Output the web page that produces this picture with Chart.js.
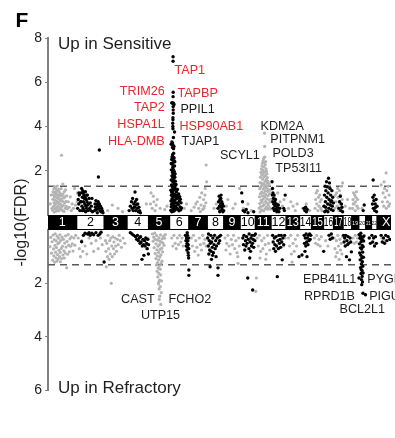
<!DOCTYPE html>
<html>
<head>
<meta charset="utf-8">
<script src="https://cdn.jsdelivr.net/npm/chart.js@4.4.1/dist/chart.umd.min.js"></script>
<style>
  html, body { margin: 0; padding: 0; background: #fff; }
</style>
</head>
<body>
<canvas id="manhattanChartID" width="395" height="438"></canvas>
<script>
// chromosome layout (Mb)
var chrom_names = ['1','2','3','4','5','6','7','8','9','10','11','12','13','14','15','16','17','18','19','20','21','22','X'];
var chrom_lengths = [249.3, 243.2, 198.0, 191.2, 180.9, 171.1, 159.1, 146.4, 141.2, 135.5, 135.0, 133.9, 115.2, 107.3, 102.5, 90.4, 81.2, 78.1, 59.1, 63.0, 48.1, 51.3, 155.3];

var up_ticks = [2, 4, 6, 8];
var down_ticks = [2, 4, 6];
var fdr_cutoff = 1.3;

// [chromosome, position Mb, -log10(FDR)]
var up_gray = [
    [1,20,0.5],[1,28,0.9],[1,35,0.3],[1,41,0.22],[1,43,0.71],[1,44,1.05],[1,47,0.38],[1,49,0.92],[1,51,1.18],[1,53,0.55],
    [1,54,0.13],[1,56,0.81],[1,58,1.27],[1,59,0.44],[1,61,0.67],[1,62,1.02],[1,64,0.29],[1,66,0.86],[1,67,1.21],[1,69,0.51],
    [1,71,0.17],[1,72,0.97],[1,74,0.63],[1,76,1.12],[1,78,0.35],[1,79,0.78],[1,81,1.31],[1,83,0.24],[1,85,0.91],[1,86,0.58],
    [1,88,1.08],[1,90,0.41],[1,92,0.74],[1,94,0.19],[1,96,1.16],[1,98,0.53],[1,100,0.85],[1,102,0.32],[1,104,1.01],[1,106,0.66],
    [1,108,0.27],[1,110,0.93],[1,112,0.48],[1,115,1.19],[1,117,0.72],[1,118,2.7],[1,120,0.36],[1,122,0.88],[1,125,0.21],
    [1,127,0.62],[1,130,1.4],[1,131,0.95],[1,134,0.43],[1,137,0.77],[1,140,0.16],[1,143,1.06],[1,146,0.54],[1,149,0.82],
    [1,152,0.3],[1,155,1.14],[1,158,0.62],[1,161,0.39],[1,164,0.87],[1,170,0.28],[1,178,0.6],[1,186,0.35],[1,195,0.82],
    [1,204,0.2],[1,212,0.5],[1,222,0.3],[1,232,1.2],[1,240,0.45],
    [2,5,0.6],[2,8,1.0],
    [3,30,0.2],[3,70,0.45],[3,120,0.3],[3,160,0.15],
    [4,170,0.5],
    [5,15,0.5],[5,20,1.0],[5,30,0.3],[5,40,0.85],[5,45,0.6],[5,55,0.2],[5,65,0.45],[5,75,0.7],[5,100,0.3],[5,140,0.25],[5,160,0.4],
    [6,130,0.3],[6,150,0.5],
    [7,20,0.2],[7,45,0.35],[7,60,0.5],[7,73,0.6],[7,85,0.3],[7,95,0.8],[7,100,0.15],[7,105,0.45],[7,112,1.0],[7,120,0.25],[7,128,0.7],
    [7,130,0.3],[7,135,0.4],[7,140,0.9],[7,142,1.2],[7,148,0.55],[7,150,2.26],[7,155,1.5],
    [8,60,0.3],[8,80,0.5],
    [9,20,0.4],[9,35,0.7],[9,80,0.3],[9,100,0.5],[9,138,1.2],
    [10,30,0.3],[10,70,0.5],[10,100,0.2],
    [11,33,0.31],[11,35,0.82],[11,37,1.19],[11,38,0.52],[11,40,1.47],[11,41,0.14],[11,43,0.96],[11,44,1.71],[11,46,0.38],
    [11,47,1.28],[11,48,1.93],[11,50,0.67],[11,51,2.08],[11,52,1.44],[11,54,0.23],[11,55,1.03],[11,56,1.82],[11,57,2.21],
    [11,58,0.58],[11,59,1.36],[11,61,2.34],[11,62,0.86],[11,63,1.62],[11,64,2.02],[11,65,0.41],[11,66,2.44],[11,67,1.17],
    [11,68,1.88],[11,69,0.72],[11,70,2.53],[11,71,1.41],[11,72,0.19],[11,73,2.17],[11,74,0.99],[11,75,1.73],[11,76,2.61],
    [11,77,0.47],[11,78,1.26],[11,79,3.7],[11,79,2.36],[11,80,3.1],[11,81,0.83],[11,81,1.95],[11,82,2.62],[11,83,1.52],
    [11,84,0.28],[11,85,2.27],[11,86,1.09],[11,87,1.78],[11,88,0.61],[11,89,2.41],[11,90,1.33],[11,91,0.92],[11,92,2.09],
    [11,94,1.61],[11,95,0.36],[11,96,1.98],[11,97,1.21],[11,99,0.74],[11,100,1.86],[11,101,1.45],[11,103,0.53],[11,104,1.69],
    [11,106,1.07],[11,107,0.26],[11,108,1.52],[11,110,0.88],[11,112,1.32],[11,113,0.44],[11,115,1.14],[11,117,0.69],
    [11,119,1.41],[11,121,0.33],[11,123,0.97],[11,126,0.58],[11,128,1.12],[11,131,0.27],[11,133,0.71],
    [12,30,0.8],[12,45,0.5],[12,60,1.0],[12,70,0.3],[12,80,0.6],[12,100,0.4],[12,115,0.7],
    [13,20,0.3],[13,40,0.6],[13,60,0.4],[13,80,0.2],[13,95,0.5],
    [14,30,0.3],[14,60,0.5],[14,90,0.2],
    [15,30,0.3],[15,35,0.7],[15,40,1.0],[15,45,0.5],[15,50,1.1],[15,55,0.2],[15,60,0.8],[15,65,0.4],[15,70,0.9],[15,75,0.6],
    [15,80,0.3],[15,85,0.7],[15,90,0.2],
    [16,10,0.4],[16,80,0.5],
    [17,10,0.3],[17,15,0.9],[17,20,0.6],[17,25,1.0],[17,30,0.4],[17,35,1.2],[17,40,0.8],[17,45,0.2],[17,48,0.6],[17,50,1.1],
    [17,55,0.5],[17,60,0.9],[17,65,1.3],[17,70,0.3],[17,75,0.7],[17,78,1.45],
    [18,20,0.4],[18,40,0.7],[18,60,0.3],
    [19,5,0.3],[19,10,0.7],[19,12,0.5],[19,15,1.0],[19,20,0.5],[19,25,0.9],[19,30,0.2],[19,32,0.6],[19,35,0.8],[19,40,1.05],
    [19,45,0.4],[19,50,0.7],[19,55,0.3],
    [20,30,0.3],
    [23,35,1.36],[23,45,0.6],[23,52,1.0],[23,58,0.4],[23,60,1.5],[23,65,1.2],[23,70,0.8],[23,78,1.9],[23,80,0.3],[23,85,1.1],
    [23,90,0.6],[23,95,1.3],[23,100,0.4],[23,104,0.9],[23,110,0.5]
];

var up_black = [
    [2,10,0.3],[2,15,0.7],[2,20,0.5],[2,22,1.0],[2,25,0.9],[2,30,0.2],[2,35,0.6],[2,40,1.0],[2,42,0.6],[2,45,1.2],[2,48,0.4],
    [2,50,0.2],[2,52,0.8],[2,55,1.1],[2,58,0.3],[2,60,1.0],[2,62,0.6],[2,65,0.9],[2,68,0.2],[2,70,0.75],[2,72,0.5],[2,75,0.8],
    [2,78,1.05],[2,80,0.15],[2,82,0.4],[2,85,0.7],[2,88,0.3],[2,90,0.9],[2,92,0.6],[2,95,0.9],[2,98,0.45],[2,100,0.2],[2,105,0.5],
    [2,110,0.75],[2,115,0.3],[2,120,0.55],[2,125,0.2],[2,130,0.4],[2,135,0.75],[2,140,0.15],
    [2,158,0.2],[2,162,0.5],[2,166,0.35],[2,170,0.65],[2,175,0.25],[2,178,0.5],[2,182,0.1],[2,186,0.4],[2,190,0.6],[2,192,1.72],
    [2,195,0.3],[2,200,2.94],[2,200,0.5],[2,205,0.2],[2,210,0.4],[2,215,0.15],[2,220,0.3],[2,226,0.2],[2,232,0.1],
    [4,20,0.2],[4,30,0.4],[4,40,0.6],[4,45,0.3],[4,50,0.75],[4,55,0.2],[4,60,0.5],[4,65,0.35],[4,71,1.04],[4,72,0.6],[4,76,0.2],
    [4,80,0.45],[4,85,0.7],[4,90,0.3],[4,95,0.5],[4,100,0.15],[4,105,0.35],[4,110,0.2],[4,118,0.1],
    [6,32,7.15],[6,32,6.95],[6,33,5.55],[6,32,5.35],[6,20,5.07],[6,26,5.07],[6,30,5.05],[6,35,5.05],[6,40,5.0],[6,33,4.9],
    [6,33,4.75],[6,34,4.6],[6,31,4.4],[6,31,4.3],[6,29,4.15],[6,30,4.0],[6,31,3.9],[6,45,3.75],[6,35,3.5],[6,28,3.25],
    [6,32,3.15],[6,27,3.05],[6,36,3.0],[6,40,3.1],[6,15,3.2],[6,22,3.3],
    [6,12,0.21],[6,13,1.12],[6,14,0.63],[6,15,1.58],[6,16,0.37],[6,17,2.04],[6,18,0.89],[6,19,1.36],[6,20,2.51],[6,21,0.15],
    [6,22,1.77],[6,23,0.74],[6,24,2.29],[6,25,1.05],[6,26,0.46],[6,27,1.92],[6,28,2.72],[6,28,1.24],[6,29,0.58],[6,30,2.16],
    [6,31,1.49],[6,31,0.28],[6,32,2.61],[6,33,0.97],[6,33,1.83],[6,34,2.38],[6,35,0.52],[6,35,1.31],[6,36,2.05],[6,37,0.81],
    [6,37,2.79],[6,38,1.65],[6,39,0.34],[6,40,2.45],[6,41,1.14],[6,42,1.97],[6,43,0.67],[6,44,1.42],[6,45,2.22],[6,46,0.93],
    [6,47,1.71],[6,48,0.22],[6,49,1.28],[6,50,1.86],[6,51,0.56],[6,52,1.53],[6,54,0.85],[6,55,1.17],[6,57,0.41],[6,58,1.38],
    [6,60,0.72],[6,62,1.04],[6,64,0.31],[6,66,0.88],[6,68,0.54],[6,70,1.15],[6,72,0.26],[6,75,0.77],[6,78,0.48],[6,81,0.95],
    [6,84,0.19],[6,87,0.62],[6,90,0.83],[6,93,0.36],[6,96,0.71],[6,99,0.24],[6,102,0.55],[6,105,0.32],[6,16,2.33],[6,23,2.62],
    [6,26,1.58],[6,30,0.88],[6,34,1.12],[6,41,2.58],[6,44,0.41],[6,19,0.49],[6,25,2.02],[6,38,0.63],[6,43,1.75],[6,29,1.69],
    [6,47,2.41],[6,21,1.02],[6,36,0.17],[6,39,1.94],[6,27,2.55],
    [8,95,0.3],[8,100,0.6],[8,105,0.85],[8,108,0.4],[8,110,0.15],[8,112,0.7],[8,115,0.2],[8,118,0.5],[8,120,0.75],[8,122,0.9],
    [8,125,0.35],[8,128,0.6],[8,130,0.45],[8,132,0.25],[8,135,0.5],[8,138,0.15],[8,142,0.4],[8,145,0.2],
    [10,15,1.0],[10,22,0.6],[10,28,0.2],[10,40,0.15],[10,55,0.25],[10,70,0.1],[10,120,0.15],
    [12,10,1.5],[12,14,1.2],[12,12,0.9],[12,16,0.6],[12,18,1.0],[12,20,0.3],[12,22,0.75],[12,25,0.5],[12,28,0.9],[12,30,0.2],
    [12,33,0.6],[12,36,0.4],[12,40,0.7],[12,44,0.25],[12,48,0.5],[12,52,0.15],[12,56,0.35],[12,60,0.2],[12,65,0.45],[12,70,0.15],
    [12,78,0.3],[12,112,0.3],[12,118,0.2],[12,125,0.9],
    [14,40,0.3],[14,48,0.2],[14,55,0.35],[14,62,0.15],[14,68,0.25],
    [16,5,0.4],[16,10,0.9],[16,12,0.15],[16,15,1.3],[16,18,0.6],[16,20,0.35],[16,22,1.1],[16,25,0.2],[16,28,1.5],[16,30,0.8],
    [16,34,1.27],[16,38,0.5],[16,40,0.15],[16,42,1.0],[16,45,1.66],[16,48,0.3],[16,50,0.7],[16,54,1.45],[16,58,1.2],[16,60,0.45],
    [16,64,0.9],[16,65,0.6],[16,68,0.25],[16,72,0.65],[16,75,1.1],[16,78,0.4],[16,82,0.8],[16,85,0.2],[16,88,0.55],
    [17,45,0.3],[17,52,0.6],[17,58,0.85],[17,62,0.2],[17,68,0.5],[17,72,0.35],[17,78,0.15],
    [20,40,0.2],[20,49,0.45],
    [22,10,0.5],[22,14,0.8],[22,16,1.58],[22,18,0.3],[22,22,0.65],[22,26,0.9],[22,30,0.2],[22,34,0.5],[22,38,0.35],[22,42,0.7],
    [22,46,0.15],[22,50,0.4]
];

var down_gray = [
    [1,18,0.62],[1,24,0.28],[1,31,0.87],[1,36,0.44],[1,41,1.13],[1,44,0.19],[1,48,0.71],[1,52,0.97],[1,55,0.36],[1,58,1.21],
    [1,61,0.58],[1,63,0.14],[1,66,0.83],[1,69,1.04],[1,72,0.41],[1,74,0.66],[1,77,1.17],[1,80,0.23],[1,83,0.92],[1,86,0.52],
    [1,89,1.09],[1,92,0.31],[1,95,0.76],[1,98,0.47],[1,101,1.0],[1,104,0.18],[1,107,0.84],[1,109,1.19],[1,112,0.39],[1,116,0.69],
    [1,119,1.07],[1,123,0.27],[1,127,0.61],[1,131,0.94],[1,135,0.35],[1,139,0.78],[1,142,1.05],[1,146,0.49],[1,150,0.86],
    [1,154,0.22],[1,158,0.64],[1,164,1.42],[1,167,0.43],[1,171,0.91],[1,176,0.17],[1,181,0.57],[1,187,0.82],[1,192,0.33],
    [1,198,0.61],[1,205,0.26],[1,212,0.52],[1,219,0.79],[1,227,0.3],[1,235,0.57],[1,242,0.2],
    [2,15,0.3],[2,25,0.7],[2,35,1.0],[2,45,0.4],[2,55,0.8],[2,65,0.2],[2,75,0.6],[2,90,0.9],[2,110,0.3],[2,130,0.5],[2,150,0.8],
    [2,170,0.4],[2,190,0.7],[2,210,0.3],[2,225,0.55],
    [3,10,0.4],[3,15,0.8],[3,18,1.38],[3,22,0.5],[3,28,1.0],[3,32,0.2],[3,38,0.7],[3,42,1.1],[3,48,0.4],[3,52,0.9],[3,58,0.3],
    [3,61,2.0],[3,65,0.6],[3,70,1.0],[3,75,0.25],[3,80,0.7],[3,85,0.45],[3,90,0.9],[3,95,0.3],[3,100,0.6],[3,108,0.8],[3,115,0.35],
    [3,122,0.55],[3,130,0.2],[3,140,0.4],[3,150,0.65],[3,165,0.3],[3,180,0.5],
    [4,160,0.4],[4,175,0.7],[4,185,0.3],
    [5,31,0.15],[5,38,0.42],[5,44,0.27],[5,47,0.66],[5,52,0.12],[5,56,0.88],[5,58,0.35],[5,63,1.07],[5,64,0.52],[5,67,1.31],
    [5,69,0.21],[5,71,0.74],[5,73,1.55],[5,74,0.97],[5,77,1.22],[5,78,0.38],[5,80,1.76],[5,81,0.61],[5,83,1.43],[5,85,2.02],
    [5,86,0.84],[5,87,1.12],[5,88,1.95],[5,89,1.63],[5,90,0.29],[5,91,2.21],[5,92,1.34],[5,92,2.6],[5,94,0.55],[5,95,1.88],
    [5,96,2.48],[5,97,1.01],[5,98,0.42],[5,99,0.73],[5,100,1.47],[5,101,2.12],[5,103,0.18],[5,104,1.68],[5,105,2.79],[5,106,0.93],
    [5,108,1.25],[5,109,2.35],[5,111,0.46],[5,112,1.91],[5,114,0.68],[5,116,1.17],[5,118,0.33],[5,121,0.82],[5,125,0.49],
    [5,129,0.24],[5,134,0.58],[5,139,0.31],[5,145,0.17],
    [6,20,0.3],[6,30,0.6],[6,40,0.2],[6,50,0.5],[6,60,0.7],[6,70,0.3],[6,80,0.55],[6,90,0.2],[6,100,0.45],[6,110,0.3],[6,120,0.6],
    [7,20,0.3],[7,30,0.6],[7,40,0.2],[7,50,0.8],[7,60,0.4],[7,70,0.65],[7,81,0.94],[7,90,0.3],[7,100,0.55],[7,110,0.75],[7,120,0.2],
    [7,130,0.5],[7,140,0.35],[7,150,0.6],
    [9,10,0.3],[9,18,0.75],[9,25,0.5],[9,35,0.2],[9,45,0.6],[9,55,0.9],[9,65,0.35],[9,75,0.55],[9,85,0.2],[9,95,0.7],[9,105,0.4],
    [9,115,0.85],[9,122,1.0],[9,124,1.25],[9,130,0.3],[9,135,0.6],
    [11,3,2.3],[11,8,1.8],[11,15,0.3],[11,25,0.6],[11,35,0.2],[11,40,1.05],[11,45,0.8],[11,55,0.4],[11,65,0.7],[11,75,0.3],
    [11,85,0.55],[11,90,1.1],[11,95,0.9],[11,105,0.2],[11,115,0.5],[11,125,0.75],
    [12,90,0.4],[12,110,0.6],[12,125,0.3],
    [13,20,0.3],[13,30,0.6],[13,40,0.2],[13,45,0.9],[13,52,1.2],[13,60,0.5],[13,70,0.8],[13,80,0.35],[13,90,0.6],[13,100,0.2],
    [15,25,0.3],[15,35,0.5],[15,45,0.2],[15,55,0.55],[15,65,0.35],[15,75,0.6],[15,85,0.25],
    [16,20,0.4],[16,40,0.6],[16,60,0.3],
    [17,5,0.3],[17,12,0.7],[17,18,1.0],[17,24,0.4],[17,30,0.85],[17,36,0.2],[17,42,0.6],[17,48,1.1],[17,54,0.35],[17,60,0.75],
    [17,66,0.5],[17,72,0.9],[17,78,0.25],
    [19,10,0.3],[19,20,0.5],[19,30,0.2],[19,40,0.45],[19,50,0.3],
    [23,40,0.3],[23,70,0.4],[23,100,0.25]
];

var down_black = [
    [2,45,0.44],[2,60,0.2],[2,75,0.12],[2,97,0.15],[2,110,0.1],[2,120,0.2],[2,135,0.12],[2,150,0.18],[2,170,0.1],[2,190,0.2],
    [2,205,0.15],[2,215,0.08],[2,242,1.2],
    [4,30,0.1],[4,45,0.15],[4,60,0.2],[4,75,0.25],[4,85,0.35],[4,92,0.2],[4,100,0.4],[4,108,0.3],[4,115,0.5],[4,120,0.25],
    [4,125,0.45],[4,132,1.1],[4,135,0.6],[4,140,0.35],[4,145,0.55],[4,149,0.95],[4,155,0.4],[4,160,0.6],[4,165,0.3],[4,172,0.5],
    [4,178,0.7],[4,183,0.35],[4,188,0.9],[4,190,0.55],
    [6,140,0.2],[6,145,0.4],[6,148,0.6],[6,150,0.3],[6,153,0.75],[6,155,0.5],[6,156,0.1],[6,158,0.2],[6,160,0.65],[6,162,0.4],
    [6,164,0.85],[6,165,0.55],[6,166,0.95],[6,167,0.3],[6,168,1.05],[6,169,0.7],[6,170,1.5],[6,170,1.7],
    [8,5,0.3],[8,10,0.6],[8,12,0.15],[8,15,0.9],[8,18,0.4],[8,22,0.75],[8,26,1.38],[8,28,0.5],[8,32,0.2],[8,35,0.8],[8,38,1.1],
    [8,40,0.45],[8,45,0.65],[8,48,0.95],[8,50,0.3],[8,55,0.85],[8,60,0.55],[8,65,0.2],[8,70,0.7],[8,75,0.4],[8,78,1.0],[8,82,0.6],
    [8,88,0.3],[8,95,1.42],[8,95,1.7],[8,100,0.5],[8,105,0.25],[8,110,0.4],[8,118,0.2],
    [10,25,0.3],[10,30,0.55],[10,35,0.2],[10,42,0.75],[10,48,0.4],[10,52,0.6],[10,58,0.25],[10,62,0.5],[10,68,1.8],[10,72,0.35],
    [10,78,0.7],[10,80,0.15],[10,85,1.05],[10,88,0.45],[10,92,0.8],[10,96,0.3],[10,100,0.6],[10,105,0.2],[10,110,0.5],
    [10,111,2.25],[10,115,0.35],[10,120,0.65],[10,125,0.2],[10,130,0.4],[10,135,0.15],
    [12,15,0.2],[12,20,0.45],[12,25,0.7],[12,30,0.3],[12,35,0.55],[12,40,0.8],[12,45,0.25],[12,50,0.6],[12,56,1.75],[12,60,0.4],
    [12,65,0.7],[12,70,0.2],[12,75,0.5],[12,80,0.35],[12,85,0.65],[12,90,0.2],[12,95,0.45],[12,99,1.12],[12,105,0.3],[12,112,0.55],
    [12,120,0.2],
    [13,112,1.0],
    [14,23,0.94],[14,42,0.2],[14,45,0.5],[14,49,0.8],[14,52,0.3],[14,56,0.6],[14,60,0.15],[14,64,0.45],[14,67,1.0],[14,70,0.3],
    [14,75,0.55],[14,80,0.2],[14,85,0.4],[14,90,0.15],[14,95,0.35],[14,100,0.2],
    [16,3,0.8],[16,50,0.2],[16,60,0.35],[16,70,0.15],[16,80,0.3],
    [18,5,0.2],[18,10,0.45],[18,15,0.3],[18,20,0.6],[18,25,0.2],[18,31,1.0],[18,35,0.4],[18,40,0.55],[18,45,0.25],[18,50,0.5],
    [18,57,1.12],[18,62,0.3],[18,68,0.45],[18,74,0.82],
    [20,3,1.8],[20,4,0.18],[20,7,0.52],[20,9,0.86],[20,12,0.31],[20,14,1.12],[20,15,0.67],[20,17,1.41],[20,18,0.24],[20,19,0.12],
    [20,20,0.95],[20,21,1.63],[20,22,0.44],[20,23,1.48],[20,24,1.27],[20,25,1.86],[20,26,0.71],[20,27,2.05],[20,28,1.05],
    [20,29,0.36],[20,30,1.52],[20,31,1.74],[20,32,0.58],[20,33,1.19],[20,34,1.95],[20,35,0.83],[20,36,1.36],[20,37,0.27],
    [20,38,2.37],[20,39,1.61],[20,40,0.63],[20,42,1.02],[20,44,0.41],[20,47,0.22],[20,60,2.43],
    [21,30,0.3],[21,40,0.5],
    [22,5,0.2],[22,12,0.45],[22,20,0.3],[22,28,0.6],[22,36,0.25],[22,44,0.5],
    [23,35,0.2],[23,45,0.45],[23,55,0.3],[23,65,0.5],[23,75,0.2],[23,85,0.4],[23,95,0.25],[23,110,0.35]
];

// [text, genome position Mb, value, side, align, colour]
var gene_labels = [
    ['TAP1', 1107, 6.55, 'up', 'left', 'red'],
    ['TRIM26', 1021, 5.56, 'up', 'right', 'red'],
    ['TAPBP', 1133, 5.47, 'up', 'left', 'red'],
    ['TAP2', 1021, 4.84, 'up', 'right', 'red'],
    ['PPIL1', 1159, 4.75, 'up', 'left', 'black'],
    ['HSPA1L', 1021, 4.07, 'up', 'right', 'red'],
    ['HSP90AB1', 1151, 4.02, 'up', 'left', 'red'],
    ['HLA-DMB', 1021, 3.34, 'up', 'right', 'red'],
    ['TJAP1', 1168, 3.34, 'up', 'left', 'black'],
    ['SCYL1', 1505, 2.67, 'up', 'left', 'black'],
    ['KDM2A', 1860, 3.98, 'up', 'left', 'black'],
    ['PITPNM1', 1946, 3.39, 'up', 'left', 'black'],
    ['POLD3', 1964, 2.8, 'up', 'left', 'black'],
    ['TP53I11', 1990, 2.12, 'up', 'left', 'black'],
    ['CAST', 640, 2.59, 'down', 'left', 'black'],
    ['UTP15', 813, 3.22, 'down', 'left', 'black'],
    ['FCHO2', 1055, 2.59, 'down', 'left', 'black'],
    ['EPB41L1', 2232, 1.87, 'down', 'left', 'black'],
    ['PYGB', 2794, 1.87, 'down', 'left', 'black'],
    ['RPRD1B', 2240, 2.51, 'down', 'left', 'black'],
    ['PIGU', 2811, 2.51, 'down', 'left', 'black'],
    ['BCL2L1', 2552, 3.0, 'down', 'left', 'black']
];

var chrom_starts = [];
var genome_end = 0;
chrom_lengths.forEach(function(len) {
    chrom_starts.push(genome_end);
    genome_end += len;
});

function to_points(list) {
    return list.map(function(p) {
        return {x: chrom_starts[p[0] - 1] + p[1], y: p[2]};
    });
}

var font_family = '"Liberation Sans", Arial, Helvetica, sans-serif';
var label_colors = {red: '#e8262d', black: '#1e1e1e'};

// chromosome band, gene labels and panel text
var band_plugin = {
    id: 'band',
    afterDatasetsDraw: function(chart) {
        var ctx = chart.ctx;
        var xs = chart.scales.x;
        var band = chart.scales.yBand;
        var top = band.getPixelForValue(1);
        var bottom = band.getPixelForValue(0);
        var area = chart.chartArea;
        ctx.save();
        ctx.beginPath();
        ctx.rect(area.left, 0, area.right - area.left, chart.height);
        ctx.clip();
        ctx.fillStyle = '#000';
        ctx.fillRect(xs.getPixelForValue(0), top, xs.getPixelForValue(genome_end) - xs.getPixelForValue(0), bottom - top);
        ctx.textAlign = 'center';
        ctx.textBaseline = 'middle';
        chrom_names.forEach(function(name, i) {
            var x0 = xs.getPixelForValue(chrom_starts[i]);
            var x1 = xs.getPixelForValue(chrom_starts[i] + chrom_lengths[i]);
            var white = i % 2 === 1;
            if (white) {
                ctx.fillStyle = '#fff';
                ctx.fillRect(x0 + 0.8, top + 1, x1 - x0 - 1.6, bottom - top - 2);
            }
            var small = i >= 18 && i <= 21;
            ctx.font = (small ? '6px ' : '12.5px ') + font_family;
            ctx.fillStyle = white ? '#000' : '#fff';
            ctx.fillText(name, (x0 + x1) / 2, (top + bottom) / 2 + 0.5, x1 - x0 - 1);
        });
        ctx.restore();

        ctx.save();
        ctx.font = '12.6px ' + font_family;
        ctx.textBaseline = 'middle';
        gene_labels.forEach(function(l) {
            var ys = l[3] === 'up' ? chart.scales.yTop : chart.scales.yBot;
            ctx.textAlign = l[4];
            ctx.fillStyle = label_colors[l[5]];
            ctx.fillText(l[0], xs.getPixelForValue(l[1]), ys.getPixelForValue(l[2]));
        });
        ctx.fillStyle = '#1e1e1e';
        ctx.textAlign = 'left';
        ctx.textBaseline = 'alphabetic';
        ctx.font = '17px ' + font_family;
        ctx.fillText('Up in Sensitive', area.left + 10, 49);
        ctx.fillText('Up in Refractory', area.left + 10, 393);
        ctx.font = 'bold 21px ' + font_family;
        ctx.fillStyle = '#000';
        ctx.fillText('F', 15.5, 27);
        ctx.restore();
    }
};

function fix_width(scale) {
    scale.width = 48;
}

function tick_color(c) {
    return c.tick && c.tick.value === 0 ? 'rgba(0,0,0,0)' : '#808080';
}

var side_grid = {drawOnChartArea: false, drawTicks: true, tickLength: 3, color: tick_color};
var side_border = {display: true, color: '#808080', width: 2};
var tick_font = {family: font_family, size: 14};

var chart_config = {
    type: 'scatter',
    data: {
        datasets: [
            {data: to_points(up_black), yAxisID: 'yTop', backgroundColor: '#000', pointRadius: 1.7, borderWidth: 0, order: 1},
            {data: to_points(down_black), yAxisID: 'yBot', backgroundColor: '#000', pointRadius: 1.7, borderWidth: 0, order: 1},
            {data: to_points(up_gray), yAxisID: 'yTop', backgroundColor: '#b4b4b4', pointRadius: 1.6, borderWidth: 0, order: 2},
            {data: to_points(down_gray), yAxisID: 'yBot', backgroundColor: '#b4b4b4', pointRadius: 1.6, borderWidth: 0, order: 2},
            {data: [{x: 0, y: fdr_cutoff}, {x: genome_end, y: fdr_cutoff}], yAxisID: 'yTop', showLine: true, pointRadius: 0,
                borderColor: '#5a5a5a', borderWidth: 1.5, borderDash: [7, 5], order: 3},
            {data: [{x: 0, y: fdr_cutoff}, {x: genome_end, y: fdr_cutoff}], yAxisID: 'yBot', showLine: true, pointRadius: 0,
                borderColor: '#5a5a5a', borderWidth: 1.5, borderDash: [7, 5], order: 3}
        ]
    },
    options: {
        responsive: false,
        animation: false,
        events: [],
        layout: {padding: {top: 38, bottom: 48, left: 0, right: 0}},
        plugins: {legend: {display: false}, tooltip: {enabled: false}},
        scales: {
            x: {type: 'linear', display: false, min: 0, max: 3002},
            yBot: {
                type: 'linear', position: 'left', stack: 'fdr', stackWeight: 160, reverse: true, min: 0, max: 6,
                afterFit: fix_width,
                afterBuildTicks: function(scale) { scale.ticks = [0].concat(down_ticks).map(function(v) { return {value: v}; }); },
                ticks: {font: tick_font, color: '#222', padding: 3, callback: function(v) { return v === 0 ? '' : v; }},
                grid: side_grid, border: side_border
            },
            yBand: {
                type: 'linear', position: 'left', stack: 'fdr', stackWeight: 15, min: 0, max: 1,
                afterFit: fix_width,
                ticks: {display: false},
                grid: {display: false},
                border: {display: false},
                title: {display: true, text: '-log10(FDR)', font: {family: font_family, size: 16}, color: '#1e1e1e', padding: {top: 12, bottom: 0}}
            },
            yTop: {
                type: 'linear', position: 'left', stack: 'fdr', stackWeight: 177, min: 0, max: 8,
                afterFit: fix_width,
                afterBuildTicks: function(scale) { scale.ticks = [0].concat(up_ticks).map(function(v) { return {value: v}; }); },
                ticks: {font: tick_font, color: '#222', padding: 3, callback: function(v) { return v === 0 ? '' : v; }},
                grid: side_grid, border: side_border
            }
        }
    },
    plugins: [band_plugin]
};

var chart = new Chart(document.getElementById('manhattanChartID'), chart_config);
</script>
</body>
</html>
